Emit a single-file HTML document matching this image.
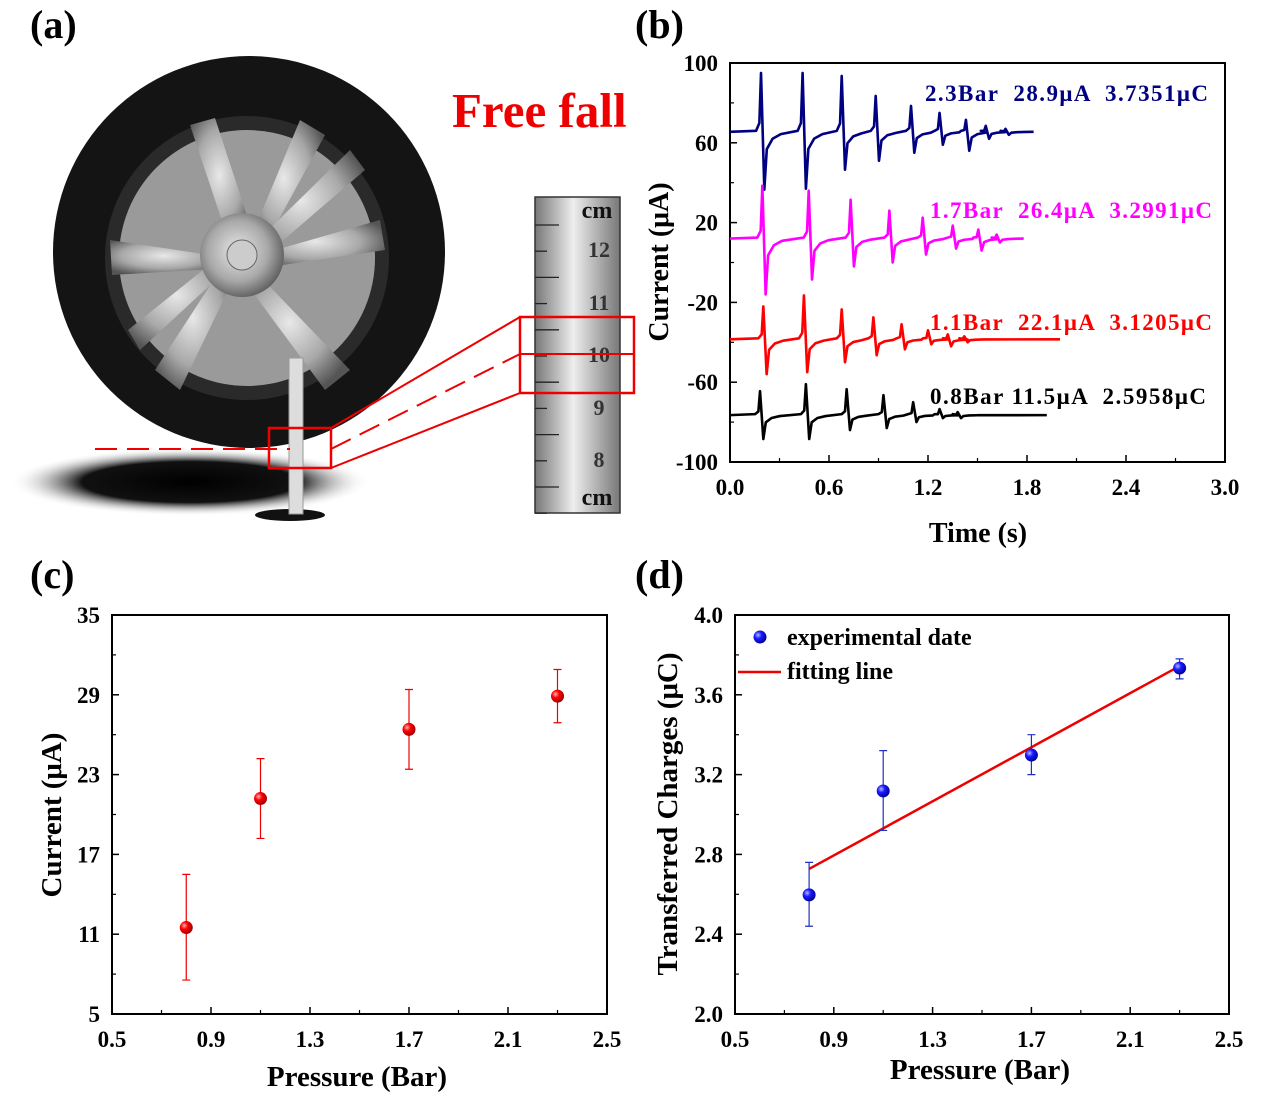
<!DOCTYPE html>
<html><head><meta charset="utf-8"><style>
body{margin:0;background:#fff}
svg text{font-family:"Liberation Serif",serif;font-weight:bold;white-space:pre}
</style></head><body>
<svg id="s" width="1269" height="1114" viewBox="0 0 1269 1114" xmlns="http://www.w3.org/2000/svg">
<defs>
<radialGradient id="rim" cx="0.45" cy="0.45" r="0.6"><stop offset="0" stop-color="#e8e8e8"/><stop offset="0.6" stop-color="#a8a8a8"/><stop offset="1" stop-color="#555"/></radialGradient>
<linearGradient id="rul" x1="0" y1="0" x2="1" y2="0"><stop offset="0" stop-color="#777"/><stop offset="0.45" stop-color="#eee"/><stop offset="1" stop-color="#777"/></linearGradient>
<radialGradient id="shad" cx="0.5" cy="0.5" r="0.5"><stop offset="0" stop-color="#000"/><stop offset="0.6" stop-color="#111"/><stop offset="1" stop-color="#fff" stop-opacity="0"/></radialGradient>
<radialGradient id="ballR" cx="0.35" cy="0.35" r="0.7"><stop offset="0" stop-color="#ffb0b0"/><stop offset="0.4" stop-color="#f00"/><stop offset="1" stop-color="#900"/></radialGradient>
<radialGradient id="ballB" cx="0.35" cy="0.35" r="0.7"><stop offset="0" stop-color="#b0b8ff"/><stop offset="0.4" stop-color="#1a1aff"/><stop offset="1" stop-color="#000090"/></radialGradient>
</defs>

<g>
<text x="30" y="38" font-size="40">(a)</text>
<ellipse cx="190" cy="482" rx="180" ry="34" fill="url(#shad)"/>
<ellipse cx="290" cy="515" rx="35" ry="6" fill="#111"/>
<circle cx="249" cy="252" r="196" fill="#141414"/>
<circle cx="247" cy="258" r="142" fill="#2a2a2a"/>
<circle cx="247" cy="258" r="128" fill="#9a9a9a"/>
<g fill="url(#rim)">
<path d="M230,245 L190,125 L215,118 L255,240Z"/><path d="M250,240 L300,120 L325,135 L262,250Z"/>
<path d="M258,255 L380,220 L385,250 L262,268Z"/><path d="M252,268 L350,370 L325,390 L240,275Z"/>
<path d="M238,270 L180,390 L155,370 L228,258Z"/><path d="M230,258 L110,240 L112,275 L230,268Z"/>
<path d="M248,250 L350,150 L365,170 L258,262Z"/><path d="M235,262 L140,350 L128,330 L228,250Z"/>
</g>
<circle cx="242" cy="255" r="42" fill="url(#rim)"/>
<circle cx="242" cy="255" r="15" fill="#ccc" stroke="#666"/>
<rect x="289" y="358" width="14" height="156" fill="#ddd" stroke="#999"/>
<line x1="95" y1="449" x2="290" y2="449" stroke="#e00" stroke-width="2" stroke-dasharray="22,10"/>
<rect x="269" y="428" width="62" height="40" fill="none" stroke="#e00" stroke-width="2.5"/>
<rect x="535" y="197" width="85" height="316" fill="url(#rul)" stroke="#333" stroke-width="1.5"/>
<g id="rulticks" stroke="#222" stroke-width="1.3"></g>
<g font-size="22" fill="#333" text-anchor="middle">
<text x="597" y="218" font-size="24" fill="#111">cm</text><text x="599" y="257">12</text><text x="599" y="310">11</text><text x="599" y="362">10</text><text x="599" y="415">9</text><text x="599" y="467">8</text><text x="597" y="505" font-size="24" fill="#111">cm</text>
</g>
<rect x="520" y="317" width="114" height="76" fill="none" stroke="#e00" stroke-width="2.5"/>
<line x1="520" y1="354" x2="634" y2="354" stroke="#e00" stroke-width="2"/>
<line x1="331" y1="428" x2="520" y2="317" stroke="#e00" stroke-width="2"/>
<line x1="331" y1="449" x2="520" y2="354" stroke="#e00" stroke-width="2" stroke-dasharray="22,10"/>
<line x1="331" y1="468" x2="520" y2="393" stroke="#e00" stroke-width="2"/>
<text x="452" y="127" font-size="49" fill="#e00">Free fall</text>
</g>

<text x="635" y="38" font-size="40">(b)</text>
<text x="30" y="588" font-size="40">(c)</text>
<text x="635" y="588" font-size="40">(d)</text>

<g id="pb"></g>
<g id="pc"></g>
<g id="pd"></g>
</svg>
<script>
// ---- Panel b data ----
const bXTicks=[0,0.6,1.2,1.8,2.4,3.0];
const bXTickLabels=["0.0","0.6","1.2","1.8","2.4","3.0"];
const bYTicks=[100,60,20,-20,-60,-100];
const blueBase=65.5, blueEnd=1.84;
const blueTimes=[0.188,0.44,0.677,0.883,1.097,1.27,1.43,1.55,1.67];
const bluePos=[95,95,93.5,83.5,78.5,75,71.5,68.5,67];
const blueNeg=[36.5,37,46.5,51,55,59,56,62,64];
const magBase=12, magEnd=1.78;
const magTimes=[0.196,0.477,0.731,0.966,1.168,1.35,1.505,1.616];
const magPos=[38.5,36,31.5,26,22.5,18.5,16.5,14];
const magNeg=[-16,-8.5,-2,0,4,7,6,10];
const redBase=-38.5, redEnd=2.0;
const redTimes=[0.202,0.448,0.677,0.869,1.04,1.2,1.32,1.42];
const redPos=[-22,-16.5,-23.5,-27.5,-31,-34,-36,-37];
const redNeg=[-56,-55,-50,-46.5,-43.5,-41,-42,-40];
const blkBase=-76.5, blkEnd=1.92;
const blkTimes=[0.182,0.46,0.707,0.93,1.11,1.27,1.38];
const blkPos=[-64.5,-61,-63.5,-66.5,-70,-73.5,-75];
const blkNeg=[-88.5,-88.5,-84,-83,-80,-78,-78];
const bLabels=["2.3Bar  28.9\u03bcA  3.7351\u03bcC","1.7Bar  26.4\u03bcA  3.2991\u03bcC","1.1Bar  22.1\u03bcA  3.1205\u03bcC","0.8Bar 11.5\u03bcA  2.5958\u03bcC"];
// ---- Panel c data ----
const pressures=[0.8,1.1,1.7,2.3];
const currentVals=[11.5,21.2,26.4,28.9];
const currentErrUp=[15.5,24.2,29.4,30.9];
const currentErrDn=[7.55,18.2,23.4,26.9];
const cYTicks=[5,11,17,23,29,35];
const pXTicks=[0.5,0.9,1.3,1.7,2.1,2.5];
// ---- Panel d data ----
const chargeVals=[2.597,3.118,3.298,3.734];
const chargeErrUp=[2.76,3.32,3.40,3.78];
const chargeErrDn=[2.44,2.92,3.20,3.68];
const dYTicks=[2.0,2.4,2.8,3.2,3.6,4.0];
const fitX=[0.8,2.3];
const fitY=[2.727,3.744];

const NS="http://www.w3.org/2000/svg";
function mk(parent,tag,attrs,text){const e=document.createElementNS(NS,tag);for(const k in attrs)e.setAttribute(k,attrs[k]);if(text!==undefined)e.textContent=text;parent.appendChild(e);return e;}

const rt=document.getElementById('rulticks');
for(let i=0;i<12;i++){const y=225+i*26.2;const l=mk(rt,'line',{x1:535,x2:535+(i%2?12:24),y1:y,y2:y});

}

function axes(g,L,T,R,B,xs,ys,xt,xl,yt,yl){
  const fr=mk(g,'rect',{x:L,y:T,width:R-L,height:B-T,fill:'none',stroke:'#000','stroke-width':2});
  
  
  xt.forEach((v,i)=>{const x=xs(v);
    const t=mk(g,'line',{x1:x,x2:x,y1:B,y2:B-7,stroke:'#000','stroke-width':1.5});
    
    
    const tx=mk(g,'text',{x:x,y:B+33,'font-size':23,'text-anchor':'middle'},xl[i]);
    
    
    if(i<xt.length-1){const xm=(x+xs(xt[i+1]))/2;const m=mk(g,'line',{x1:xm,x2:xm,y1:B,y2:B-4,stroke:'#000','stroke-width':1.2});
      
      }
  });
  yt.forEach((v,i)=>{const y=ys(v);
    const t=mk(g,'line',{x1:L,x2:L+7,y1:y,y2:y,stroke:'#000','stroke-width':1.5});
    
    
    const tx=mk(g,'text',{x:L-12,y:y+8,'font-size':23,'text-anchor':'end'},yl[i]);
    
    
    if(i<yt.length-1){const ym=(y+ys(yt[i+1]))/2;const m=mk(g,'line',{x1:L,x2:L+4,y1:ym,y2:ym,stroke:'#000','stroke-width':1.2});
      
      }
  });
}

// ---- Panel b ----
(function(){
const g=document.getElementById('pb');
const L=730,T=63,R=1225,B=462;
const xs=t=>L+(t-0)/3*(R-L), ys=v=>B-(v+100)/200*(B-T);
axes(g,L,T,R,B,xs,ys,bXTicks,bXTickLabels,bYTicks,bYTicks.map(String));
const series=[[blueBase,blueEnd,blueTimes,bluePos,blueNeg,'#000080','blue'],[magBase,magEnd,magTimes,magPos,magNeg,'#ff00ff','magenta'],[redBase,redEnd,redTimes,redPos,redNeg,'#ff0000','red'],[blkBase,blkEnd,blkTimes,blkPos,blkNeg,'#000','black']];
const labY=[93,210,322,396];
const labX=[925,930,930,930];
const labW=[283,282,282,276];
series.forEach((s,si)=>{
  const [base,end,ts,pos,neg,col,nm]=s;
  let d='M'+xs(0)+','+ys(base);
  ts.forEach((t,i)=>{
    d+=' L'+xs(t-0.03)+','+ys(base+0.5);
    d+=' L'+xs(t-0.01)+','+ys(base+(pos[i]-base)*0.15);
    d+=' L'+xs(t)+','+ys(pos[i]);
    d+=' L'+xs(t+0.02)+','+ys(neg[i]);
    d+=' L'+xs(t+0.035)+','+ys(base-(base-neg[i])*0.3);
    d+=' L'+xs(t+0.07)+','+ys(base-(base-neg[i])*0.12);
    d+=' L'+xs(t+0.12)+','+ys(base-(base-neg[i])*0.04);
  });
  d+=' L'+xs(end)+','+ys(base);
  const p=mk(g,'path',{d:d,fill:'none',stroke:col,'stroke-width':2.6,'stroke-linejoin':'round'});
  
  
  const tx=mk(g,'text',{x:labX[si],y:labY[si]+8,'font-size':23,fill:col,textLength:labW[si],lengthAdjust:'spacing'},bLabels[si]);
  
  
});
const xt=mk(g,'text',{x:978,y:542,'font-size':28,'text-anchor':'middle'},'Time (s)');


const yt=mk(g,'text',{x:0,y:0,'font-size':28,'text-anchor':'middle',transform:'translate(668,262) rotate(-90)'},'Current (\u03bcA)');


})();

function errPlot(g,xs,ys,vals,up,dn,col,grad,nm){
  pressures.forEach((p,i)=>{
    const x=xs(p);
    const e=mk(g,'path',{d:`M${x},${ys(up[i])} L${x},${ys(dn[i])} M${x-4},${ys(up[i])} L${x+4},${ys(up[i])} M${x-4},${ys(dn[i])} L${x+4},${ys(dn[i])}`,stroke:col,'stroke-width':1.2,fill:'none'});
    
    
    const c=mk(g,'circle',{cx:x,cy:ys(vals[i]),r:6.5,fill:grad});
    
    
  });
}

// ---- Panel c ----
(function(){
const g=document.getElementById('pc');
const L=112,T=615,R=607,B=1014;
const xs=v=>L+(v-0.5)/2*(R-L), ys=v=>B-(v-5)/30*(B-T);
axes(g,L,T,R,B,xs,ys,pXTicks,pXTicks.map(v=>v.toFixed(1)),cYTicks,cYTicks.map(String));
errPlot(g,xs,ys,currentVals,currentErrUp,currentErrDn,'#e00','url(#ballR)','current');
const xt=mk(g,'text',{x:357,y:1086,'font-size':29,'text-anchor':'middle'},'Pressure (Bar)');


const yt=mk(g,'text',{x:0,y:0,'font-size':29,'text-anchor':'middle',transform:'translate(61,815) rotate(-90)'},'Current (\u03bcA)');


})();

// ---- Panel d ----
(function(){
const g=document.getElementById('pd');
const L=735,T=615,R=1229,B=1014;
const xs=v=>L+(v-0.5)/2*(R-L), ys=v=>B-(v-2)/2*(B-T);
axes(g,L,T,R,B,xs,ys,pXTicks,pXTicks.map(v=>v.toFixed(1)),dYTicks,dYTicks.map(v=>v.toFixed(1)));
const fl=mk(g,'line',{x1:xs(fitX[0]),y1:ys(fitY[0]),x2:xs(fitX[1]),y2:ys(fitY[1]),stroke:'#e00','stroke-width':2.5});


errPlot(g,xs,ys,chargeVals,chargeErrUp,chargeErrDn,'#2030c0','url(#ballB)','charge');
const lc=mk(g,'circle',{cx:760,cy:637,r:6.5,fill:'url(#ballB)'});


const l1=mk(g,'text',{x:787,y:645,'font-size':24},'experimental date');


const ll=mk(g,'line',{x1:738,x2:781,y1:672,y2:672,stroke:'#e00','stroke-width':2.5});


const l2=mk(g,'text',{x:787,y:679,'font-size':24},'fitting line');


const xt=mk(g,'text',{x:980,y:1079,'font-size':29,'text-anchor':'middle'},'Pressure (Bar)');


const yt=mk(g,'text',{x:0,y:0,'font-size':29,'text-anchor':'middle',transform:'translate(677,814) rotate(-90)'},'Transferred Charges (\u03bcC)');


})();
</script>
</body></html>
